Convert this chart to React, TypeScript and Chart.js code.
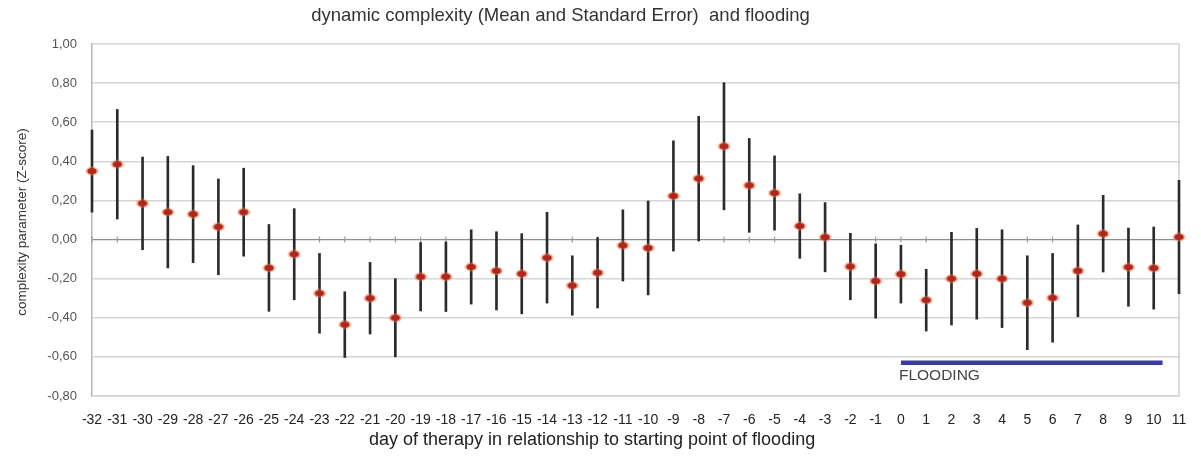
import React, { useEffect, useRef } from "react";
import { Chart, registerables } from "chart.js";

Chart.register(...registerables);

// ---- data ----
const days = [
  -32, -31, -30, -29, -28, -27, -26, -25, -24, -23, -22, -21, -20, -19, -18, -17,
  -16, -15, -14, -13, -12, -11, -10, -9, -8, -7, -6, -5, -4, -3, -2, -1,
  0, 1, 2, 3, 4, 5, 6, 7, 8, 9, 10, 11,
];

const means = [
  0.35, 0.385, 0.185, 0.14, 0.13, 0.065, 0.14, -0.145, -0.075, -0.275, -0.435, -0.3,
  -0.4, -0.19, -0.19, -0.14, -0.16, -0.175, -0.093, -0.235, -0.17, -0.03, -0.043,
  0.223, 0.312, 0.477, 0.277, 0.238, 0.069, 0.012, -0.138, -0.212,
  -0.177, -0.31, -0.2, -0.175, -0.2, -0.323, -0.298, -0.16, 0.03, -0.141, -0.146, 0.013,
];

const stdErrors = [
  0.21, 0.28, 0.237, 0.285, 0.248, 0.245, 0.225, 0.222, 0.233, 0.204, 0.168, 0.183,
  0.2, 0.175, 0.178, 0.19, 0.2, 0.205, 0.232, 0.152, 0.18, 0.182, 0.24,
  0.282, 0.318, 0.325, 0.24, 0.19, 0.165, 0.177, 0.17, 0.19,
  0.148, 0.158, 0.237, 0.232, 0.25, 0.24, 0.227, 0.235, 0.196, 0.2, 0.21, 0.29,
];

const yTickValues = [-0.8, -0.6, -0.4, -0.2, 0, 0.2, 0.4, 0.6, 0.8, 1.0];

const floodStart = 0;
const floodEnd = 10.35;
const floodLevel = -0.63;
const floodLabel = "FLOODING";

const titleText = "dynamic complexity (Mean and Standard Error)  and flooding";
const xTitleText = "day of therapy in relationship to starting point of flooding";
const yTitleText = "complexity parameter (Z-score)";

const FONT = '"Liberation Sans", Arial, Helvetica, sans-serif';

function fmtY(v: number): string {
  const val = Math.abs(v) < 1e-9 ? 0 : v;
  return val.toFixed(2).replace(".", ",");
}

function makeMarker(): HTMLCanvasElement {
  const c = document.createElement("canvas");
  c.width = 14;
  c.height = 10;
  const g = c.getContext("2d")!;
  g.fillStyle = "rgba(240,128,78,0.5)";
  g.beginPath();
  g.ellipse(7, 5, 6.6, 4.4, 0, 0, Math.PI * 2);
  g.fill();
  g.fillStyle = "#b0261c";
  g.beginPath();
  g.ellipse(7, 5, 4.7, 3.0, 0, 0, Math.PI * 2);
  g.fill();
  return c;
}

const decorPlugin = {
  id: "decor",
  beforeDatasetsDraw(chart: any) {
    const { ctx, chartArea: a, scales } = chart;
    const x = scales.x;
    const y = scales.y;
    ctx.save();
    // right frame line
    ctx.strokeStyle = "#cfcfcf";
    ctx.lineWidth = 1.5;
    ctx.beginPath();
    ctx.moveTo(a.right, a.top);
    ctx.lineTo(a.right, a.bottom);
    ctx.stroke();
    // small tick marks on the zero line
    const y0 = y.getPixelForValue(0);
    ctx.strokeStyle = "#9a9a9a";
    ctx.lineWidth = 1.2;
    days.forEach((d) => {
      const px = x.getPixelForValue(d);
      ctx.beginPath();
      ctx.moveTo(px, y0 - 3);
      ctx.lineTo(px, y0 + 3);
      ctx.stroke();
    });
    ctx.restore();
  },
  afterDraw(chart: any) {
    const { ctx, chartArea: a, scales } = chart;
    const x = scales.x;
    const y = scales.y;
    ctx.save();
    ctx.textBaseline = "middle";
    ctx.textAlign = "center";
    // main title
    ctx.fillStyle = "#333";
    ctx.font = `18.5px ${FONT}`;
    ctx.fillText(titleText, a.left + a.width * 0.431, 16);
    // x title
    ctx.fillStyle = "#222";
    ctx.font = `18px ${FONT}`;
    ctx.fillText(xTitleText, a.left + a.width * 0.46, 440);
    // y title
    ctx.save();
    ctx.translate(22, (a.top + a.bottom) / 2 + 2);
    ctx.rotate(-Math.PI / 2);
    ctx.fillStyle = "#333";
    ctx.font = `13.5px ${FONT}`;
    ctx.fillText(yTitleText, 0, 0);
    ctx.restore();
    // flooding label
    ctx.textAlign = "left";
    ctx.fillStyle = "#444";
    ctx.font = `15.5px ${FONT}`;
    ctx.fillText(floodLabel, x.getPixelForValue(floodStart) - 2, y.getPixelForValue(floodLevel) + 13);
    ctx.restore();
  },
};

export default function App() {
  const ref = useRef<HTMLCanvasElement | null>(null);

  useEffect(() => {
    if (!ref.current) return;
    const marker = makeMarker();
    const errorData = days.map((d, i) => ({
      x: d,
      y: [means[i] - stdErrors[i], means[i] + stdErrors[i]],
    }));
    const meanData = days.map((d, i) => ({ x: d, y: means[i] }));
    const floodData = [
      { x: floodStart, y: floodLevel },
      { x: floodEnd, y: floodLevel },
    ];

    const chart = new Chart(ref.current, {
      type: "bar",
      data: {
        datasets: [
          {
            type: "line",
            label: "mean",
            data: meanData as any,
            showLine: false,
            pointStyle: marker as any,
            pointRadius: 5,
            clip: false as any,
            order: 0,
          },
          {
            type: "line",
            label: "flooding",
            data: floodData as any,
            borderColor: "#3b3ba8",
            borderWidth: 4.5,
            pointRadius: 0,
            order: 1,
          },
          {
            type: "bar",
            label: "SE",
            data: errorData as any,
            backgroundColor: "#2b2b2b",
            borderWidth: 0,
            barThickness: 2,
            clip: false as any,
            order: 2,
          } as any,
        ],
      },
      options: {
        responsive: false,
        animation: false,
        layout: { padding: { top: 44, right: 22, bottom: 0, left: 0 } },
        plugins: {
          legend: { display: false },
          title: { display: false },
          tooltip: { enabled: false },
        },
        scales: {
          x: {
            type: "linear",
            min: -32,
            max: 11,
            offset: false,
            grid: { display: false },
            border: { display: true, color: "#d3d3d3", width: 1.5 },
            afterBuildTicks: (s: any) => {
              s.ticks = days.map((v) => ({ value: v }));
            },
            afterFit: (s: any) => {
              s.height = 63;
            },
            ticks: {
              autoSkip: false,
              maxRotation: 0,
              minRotation: 0,
              padding: 8,
              color: "#222",
              font: { family: FONT, size: 14 },
              callback: (v: any) => String(v),
            },
          },
          y: {
            type: "linear",
            min: -0.8,
            max: 1.0,
            afterBuildTicks: (s: any) => {
              s.ticks = yTickValues.map((v) => ({ value: v }));
            },
            afterFit: (s: any) => {
              s.width = 92;
            },
            grid: {
              drawTicks: false,
              color: (c: any) => (Math.abs(c.tick.value) < 1e-9 ? "#8c8c8c" : "#d6d6d6"),
              lineWidth: (c: any) => (Math.abs(c.tick.value) < 1e-9 ? 1.2 : 1.5),
            },
            border: { display: true, color: "#b5b5b5", width: 1.5 },
            ticks: {
              padding: 15,
              color: "#555",
              font: { family: FONT, size: 13 },
              callback: (v: any) => fmtY(Number(v)),
            },
          },
        },
      },
      plugins: [decorPlugin],
    });
    return () => chart.destroy();
  }, []);

  return (
    <div style={{ position: "fixed", left: 0, top: 0, width: 1201, height: 459, background: "#fff" }}>
      <canvas ref={ref} width={1201} height={459} style={{ width: 1201, height: 459, display: "block" }} />
    </div>
  );
}
